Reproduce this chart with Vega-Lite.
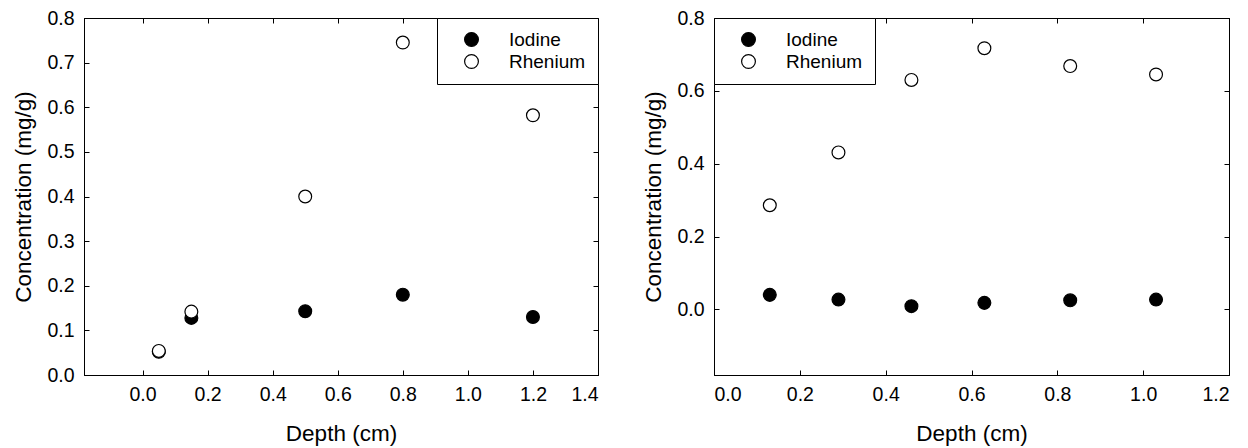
{
  "$schema": "https://vega.github.io/schema/vega-lite/v6.json",
  "padding": {"left": 12, "top": 7, "right": 0, "bottom": 0},
  "background": "white",
  "config": {
    "font": "Liberation Sans",
    "view": {"stroke": "black", "strokeWidth": 1},
    "axis": {"grid": false, "domainColor": "black", "tickColor": "black", "tickSize": -5, "labelFontSize": 19.5, "labelColor": "black", "titleFontSize": 22.5, "titleFontWeight": "normal", "titleColor": "black", "labelPadding": 15},
    "legend": {"padding": 12, "symbolOffset": 13, "labelOffset": 28, "rowPadding": 2, "symbolSize": 190, "symbolType": "circle", "labelFontSize": 19, "labelColor": "black", "strokeColor": "black", "fillColor": "white", "offset": 0, "cornerRadius": 0, "symbolStrokeColor": "black", "symbolStrokeWidth": 1.2},
    "concat": {"spacing": 43}
  },
  "datasets": {
    "left": [
      {"depth": 0.05, "conc": 0.052, "element": "Iodine"},
      {"depth": 0.15, "conc": 0.128, "element": "Iodine"},
      {"depth": 0.5, "conc": 0.143, "element": "Iodine"},
      {"depth": 0.8, "conc": 0.18, "element": "Iodine"},
      {"depth": 1.2, "conc": 0.13, "element": "Iodine"},
      {"depth": 0.05, "conc": 0.054, "element": "Rhenium"},
      {"depth": 0.15, "conc": 0.142, "element": "Rhenium"},
      {"depth": 0.5, "conc": 0.4, "element": "Rhenium"},
      {"depth": 0.8, "conc": 0.745, "element": "Rhenium"},
      {"depth": 1.2, "conc": 0.582, "element": "Rhenium"}
    ],
    "right": [
      {"depth": 0.13, "conc": 0.04, "element": "Iodine"},
      {"depth": 0.29, "conc": 0.027, "element": "Iodine"},
      {"depth": 0.46, "conc": 0.009, "element": "Iodine"},
      {"depth": 0.63, "conc": 0.018, "element": "Iodine"},
      {"depth": 0.83, "conc": 0.025, "element": "Iodine"},
      {"depth": 1.03, "conc": 0.027, "element": "Iodine"},
      {"depth": 0.13, "conc": 0.286, "element": "Rhenium"},
      {"depth": 0.29, "conc": 0.431, "element": "Rhenium"},
      {"depth": 0.46, "conc": 0.63, "element": "Rhenium"},
      {"depth": 0.63, "conc": 0.717, "element": "Rhenium"},
      {"depth": 0.83, "conc": 0.668, "element": "Rhenium"},
      {"depth": 1.03, "conc": 0.645, "element": "Rhenium"}
    ]
  },
  "hconcat": [
    {
      "width": 514, "height": 357,
      "data": {"name": "left"},
      "layer": [
        {
          "mark": {"type": "point", "filled": true, "shape": "circle", "size": 165, "stroke": "black", "strokeWidth": 1.2, "opacity": 1},
          "encoding": {
            "x": {"field": "depth", "type": "quantitative", "scale": {"domain": [-0.18, 1.4], "nice": false, "zero": false}, "axis": {"title": "Depth (cm)", "values": [0, 0.2, 0.4, 0.6, 0.8, 1.0, 1.2, 1.4], "format": ".1f", "titlePadding": 19}},
            "y": {"field": "conc", "type": "quantitative", "scale": {"domain": [0, 0.8], "nice": false, "zero": false}, "axis": {"title": "Concentration (mg/g)", "values": [0, 0.1, 0.2, 0.3, 0.4, 0.5, 0.6, 0.7, 0.8], "format": ".1f", "titlePadding": 11}},
            "fill": {"field": "element", "type": "nominal", "scale": {"domain": ["Iodine", "Rhenium"], "range": ["black", "white"]}, "legend": {"title": null, "orient": "top-right"}}
          }
        },
        {
          "mark": {"type": "point", "opacity": 0},
          "encoding": {
            "x": {"field": "depth", "type": "quantitative", "scale": {"domain": [-0.18, 1.4], "nice": false, "zero": false}, "axis": {"orient": "top", "title": null, "labels": false, "values": [0, 0.2, 0.4, 0.6, 0.8, 1.0, 1.2, 1.4]}},
            "y": {"field": "conc", "type": "quantitative", "scale": {"domain": [0, 0.8], "nice": false, "zero": false}, "axis": {"orient": "right", "title": null, "labels": false, "values": [0, 0.1, 0.2, 0.3, 0.4, 0.5, 0.6, 0.7, 0.8]}}
          }
        }
      ],
      "resolve": {"scale": {"x": "independent", "y": "independent"}}
    },
    {
      "width": 515, "height": 357,
      "data": {"name": "right"},
      "layer": [
        {
          "mark": {"type": "point", "filled": true, "shape": "circle", "size": 165, "stroke": "black", "strokeWidth": 1.2, "opacity": 1},
          "encoding": {
            "x": {"field": "depth", "type": "quantitative", "scale": {"domain": [0, 1.2], "nice": false, "zero": false}, "axis": {"title": "Depth (cm)", "values": [0, 0.2, 0.4, 0.6, 0.8, 1.0, 1.2], "format": ".1f", "titlePadding": 19}},
            "y": {"field": "conc", "type": "quantitative", "scale": {"domain": [-0.18, 0.8], "nice": false, "zero": false}, "axis": {"title": "Concentration (mg/g)", "values": [0, 0.2, 0.4, 0.6, 0.8], "format": ".1f", "titlePadding": 11}},
            "fill": {"field": "element", "type": "nominal", "scale": {"domain": ["Iodine", "Rhenium"], "range": ["black", "white"]}, "legend": {"title": null, "orient": "top-left"}}
          }
        },
        {
          "mark": {"type": "point", "opacity": 0},
          "encoding": {
            "x": {"field": "depth", "type": "quantitative", "scale": {"domain": [0, 1.2], "nice": false, "zero": false}, "axis": {"orient": "top", "title": null, "labels": false, "values": [0, 0.2, 0.4, 0.6, 0.8, 1.0, 1.2]}},
            "y": {"field": "conc", "type": "quantitative", "scale": {"domain": [-0.18, 0.8], "nice": false, "zero": false}, "axis": {"orient": "right", "title": null, "labels": false, "values": [0, 0.2, 0.4, 0.6, 0.8]}}
          }
        }
      ],
      "resolve": {"scale": {"x": "independent", "y": "independent"}}
    }
  ]
}
